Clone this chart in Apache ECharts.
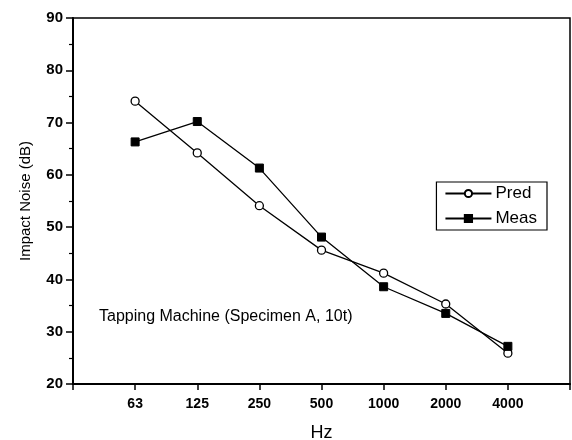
<!DOCTYPE html>
<html><head><meta charset="utf-8">
<script src="https://cdn.jsdelivr.net/npm/echarts@6/dist/echarts.min.js"></script>
<style>html,body{margin:0;padding:0;background:#fff}#c{width:572px;height:440px}</style>
</head><body><div id="c"></div>
<script>
const categories = ['63', '125', '250', '500', '1000', '2000', '4000'];
const pred = [74.1, 64.2, 54.1, 45.6, 41.2, 35.3, 25.9];
const meas = [66.3, 70.2, 61.3, 48.1, 38.6, 33.5, 27.2];
const yTicks = [20, 30, 40, 50, 60, 70, 80, 90];

const axisCats = [''].concat(categories).concat([' ']);
const font = 'Liberation Sans, Arial, sans-serif';
const chart = echarts.init(document.getElementById('c'));
chart.setOption({
  animation: false,
  backgroundColor: '#fff',
  grid: { left: 73, right: 2, top: 18, bottom: 56, outerBoundsMode: 'none', containLabel: false, show: true, borderColor: '#000', borderWidth: 1.5, backgroundColor: 'transparent' },
  legend: {
    right: 25, top: 182, orient: 'vertical', itemGap: 8, itemWidth: 46, itemHeight: 9,
    borderColor: '#000', borderWidth: 1.2, padding: [3, 10, 3, 8],
    textStyle: { fontFamily: font, fontSize: 17, color: '#000', padding: [0, 0, 0, -1] },
    data: ['Pred', 'Meas']
  },
  xAxis: {
    type: 'category', data: axisCats, boundaryGap: false,
    name: 'Hz', nameLocation: 'middle', nameGap: 40,
    nameTextStyle: { fontFamily: font, fontSize: 18, color: '#000' },
    axisLine: { lineStyle: { color: '#000', width: 2 } },
    axisTick: { length: 6, lineStyle: { color: '#000', width: 1.5 }, interval: 0 },
    axisLabel: { interval: 0, margin: 13, fontFamily: font, fontSize: 14, fontWeight: 'bold', color: '#000' },
    splitLine: { show: false }
  },
  yAxis: {
    type: 'value', min: yTicks[0], max: yTicks[yTicks.length - 1], interval: 10,
    name: 'Impact Noise (dB)', nameLocation: 'middle', nameGap: 40,
    nameTextStyle: { fontFamily: font, fontSize: 15, color: '#000' },
    axisLine: { show: true, lineStyle: { color: '#000', width: 2 } },
    axisTick: { show: true, length: 7, lineStyle: { color: '#000', width: 1.5 } },
    minorTick: { show: true, splitNumber: 2, length: 4, lineStyle: { color: '#000', width: 1.2 } },
    axisLabel: { margin: 10, fontFamily: font, fontSize: 15, fontWeight: 'bold', color: '#000' },
    splitLine: { show: false }
  },
  graphic: [{
    type: 'text', left: 99, top: 309,
    style: { text: 'Tapping Machine (Specimen A, 10t)', fontFamily: font, fontSize: 16, fill: '#000' }
  }],
  series: [
    {
      name: 'Pred', type: 'line', data: categories.map((c, i) => [c, pred[i]]),
      symbol: 'circle', symbolSize: 8,
      lineStyle: { color: '#000', width: 1.3 },
      itemStyle: { color: '#fff', borderColor: '#000', borderWidth: 1.3 }
    },
    {
      name: 'Meas', type: 'line', data: categories.map((c, i) => [c, meas[i]]),
      symbol: 'rect', symbolSize: 8,
      lineStyle: { color: '#000', width: 1.3 },
      itemStyle: { color: '#000', borderColor: '#000', borderWidth: 1 }
    }
  ]
});
</script></body></html>
